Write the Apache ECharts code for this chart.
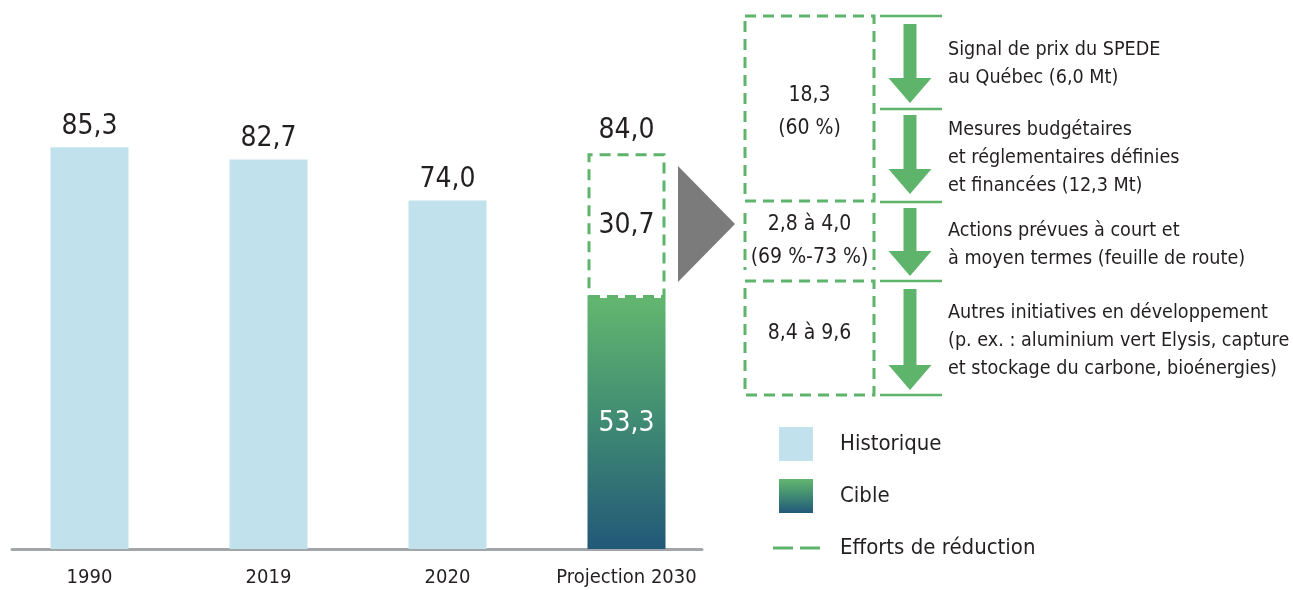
<!DOCTYPE html>
<html>
<head>
<meta charset="utf-8">
<title>Émissions de GES</title>
<script src="https://cdn.jsdelivr.net/npm/echarts@6/dist/echarts.min.js"></script>
<style>
  html, body { margin: 0; padding: 0; background: #fff; }
  #chart { width: 1293px; height: 590px; }
</style>
</head>
<body>
<div id="chart"></div>
<script>
// données
const categories = ['1990', '2019', '2020', 'Projection 2030']
const historique = [85.3, 82.7, 74.0, '-']
const cible = ['-', '-', '-', 53.3]
const efforts = ['-', '-', '-', 30.7]
const totals = ['-', '-', '-', 84.0]

const legendNames = ['Historique', 'Cible', 'Efforts de réduction']

// panneau de droite
const reductionValues = ['18,3\n(60 %)', '2,8 à 4,0\n(69 %-73 %)', '8,4 à 9,6']
const reductionLabels = [
  'Signal de prix du SPEDE\nau Québec (6,0 Mt)',
  'Mesures budgétaires\net réglementaires définies\net financées (12,3 Mt)',
  'Actions prévues à court et\nà moyen termes (feuille de route)',
  'Autres initiatives en développement\n(p. ex. : aluminium vert Elysis, capture\net stockage du carbone, bioénergies)'
]

const FONT = "'Liberation Sans Narrow', 'DejaVu Sans Condensed', sans-serif"
const GREEN = '#5db46a'
const TEXT = '#231f20'

const fmt = v => Number(v).toFixed(1).replace('.', ',')

const chart = echarts.init(document.getElementById('chart'))

// layout du panneau (px)
const boxX = 745, boxW = 129
const arrowX = 910
const sepYs = [16, 109, 202, 281, 395]
const arrows = [[24, 103], [115, 194], [208, 276], [289, 390]]
const labelYs = [64, 158, 245, 341]
const valueYs = [112, 241, 334]

function arrow(t, b) {
  const s = 6.5, h = 21.5, hh = 25
  return {
    type: 'polygon',
    shape: { points: [
      [arrowX - s, t], [arrowX + s, t], [arrowX + s, b - hh], [arrowX + h, b - hh],
      [arrowX, b], [arrowX - h, b - hh], [arrowX - s, b - hh]
    ] },
    style: { fill: GREEN }
  }
}

const dash = { stroke: GREEN, lineWidth: 3, lineDash: [11, 7], fill: null }

const graphics = [
  // triangle gris
  { type: 'polygon', shape: { points: [[678, 166], [735, 224], [678, 282]] }, style: { fill: '#7b7b7b' } },
  // boîtes pointillées
  { type: 'rect', shape: { x: boxX, y: 16, width: boxW, height: 185 }, style: dash },
  { type: 'line', shape: { x1: boxX, y1: 213, x2: boxX, y2: 270 }, style: dash },
  { type: 'line', shape: { x1: boxX + boxW, y1: 213, x2: boxX + boxW, y2: 270 }, style: dash },
  { type: 'rect', shape: { x: boxX, y: 281, width: boxW, height: 114 }, style: dash }
]
sepYs.forEach(y => {
  graphics.push({ type: 'line', shape: { x1: 880, y1: y, x2: 942, y2: y }, style: { stroke: GREEN, lineWidth: 2.5 } })
})
arrows.forEach(a => graphics.push(arrow(a[0], a[1])))
reductionValues.forEach((t, i) => {
  graphics.push({
    type: 'text',
    style: { text: t, x: boxX + boxW / 2, y: valueYs[i], align: 'center', verticalAlign: 'middle',
      font: '21px ' + FONT, lineHeight: 33, fill: TEXT }
  })
})
reductionLabels.forEach((t, i) => {
  graphics.push({
    type: 'text',
    style: { text: t, x: 948, y: labelYs[i], align: 'left', verticalAlign: 'middle',
      font: '19.6px ' + FONT, lineHeight: 28, fill: TEXT }
  })
})

// icônes de légende (boîte 62x34)
const pad = 'M0,0L0,0.01Z M62,34L62,34.01Z '
const iconSquare = 'path://' + pad + 'M6,0h34v34h-34z'
const iconDash = 'path://' + pad + 'M0,15.5h20v3h-20z M27,15.5h20v3h-20z'

const cibleGradient = new echarts.graphic.LinearGradient(0, 0, 0, 1, [
  { offset: 0, color: '#63b66f' },
  { offset: 0.5, color: '#3f8a73' },
  { offset: 1, color: '#225878' }
])

chart.setOption({
  animation: false,
  textStyle: { fontFamily: FONT },
  graphic: graphics,
  legend: {
    orient: 'vertical',
    left: 768,
    top: 422,
    itemWidth: 62,
    itemHeight: 34,
    itemGap: 18,
    selectedMode: false,
    textStyle: { fontSize: 22, color: TEXT, fontFamily: FONT },
    data: [
      { name: legendNames[0], icon: iconSquare },
      { name: legendNames[1], icon: iconSquare },
      { name: legendNames[2], icon: iconDash, itemStyle: { color: GREEN, borderWidth: 0 } }
    ]
  },
  grid: [
    { left: 0, right: 577, top: 78, bottom: 41 },
    { left: 12, right: 591, top: 78, bottom: 41 }
  ],
  xAxis: [
    {
      type: 'category',
      data: categories,
      gridIndex: 0,
      axisLine: { show: false },
      axisTick: { show: false },
      axisLabel: { interval: 0, fontSize: 20, color: TEXT, margin: 18, lineHeight: 22, fontFamily: FONT }
    },
    {
      type: 'value',
      gridIndex: 1,
      min: 0, max: 1,
      axisLine: { show: true, lineStyle: { color: '#a2a6a8', width: 3 } },
      axisTick: { show: false },
      axisLabel: { show: false },
      splitLine: { show: false }
    }
  ],
  yAxis: [
    { type: 'value', gridIndex: 0, min: 0, max: 100, show: false },
    { type: 'value', gridIndex: 1, min: 0, max: 1, show: false }
  ],
  series: [
    {
      name: legendNames[0],
      type: 'bar',
      stack: 'a',
      barWidth: 78,
      data: historique,
      itemStyle: { color: '#c1e1ec' },
      label: { show: true, position: 'top', distance: 6, fontSize: 28, lineHeight: 30, color: TEXT, fontFamily: FONT, formatter: p => fmt(p.value) }
    },
    {
      name: legendNames[1],
      type: 'bar',
      stack: 'a',
      barWidth: 78,
      data: cible,
      itemStyle: { color: cibleGradient },
      label: { show: true, position: 'inside', fontSize: 28, color: '#fff', fontFamily: FONT, formatter: p => fmt(p.value) }
    },
    {
      name: legendNames[2],
      type: 'bar',
      stack: 'a',
      barWidth: 78,
      data: efforts,
      itemStyle: { color: 'rgba(255,255,255,0)', borderColor: GREEN, borderWidth: 3, borderType: [11, 7] },
      label: { show: true, position: 'inside', fontSize: 28, color: TEXT, fontFamily: FONT, formatter: p => fmt(p.value) }
    },
    {
      name: 'Total',
      type: 'scatter',
      data: totals,
      symbolSize: 0,
      itemStyle: { opacity: 1 },
      label: { show: true, position: 'top', distance: 8, fontSize: 28, lineHeight: 30, color: TEXT, fontFamily: FONT, formatter: p => fmt(p.value) }
    }
  ]
})
</script>
</body>
</html>
